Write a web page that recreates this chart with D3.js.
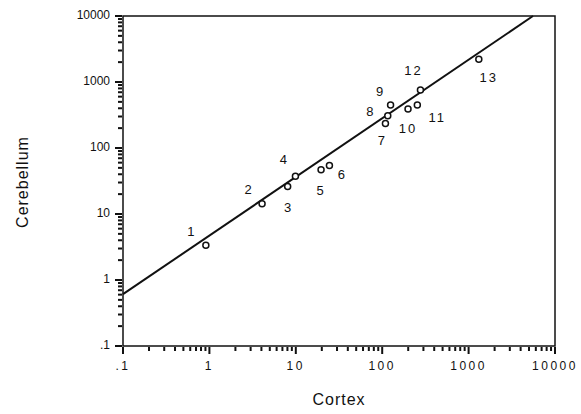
<!DOCTYPE html>
<html>
<head>
<meta charset="utf-8">
<script src="https://cdn.jsdelivr.net/npm/d3@7"></script>
<style>
  body { margin: 0; background: #fff; }
  text { font-family: "Liberation Sans", Arial, Helvetica, sans-serif; fill: #111; }
</style>
</head>
<body>
<div id="chart"></div>
<script>
// species numbers, cortex and cerebellum volumes (log-log)
const ids = [1, 2, 3, 4, 5, 6, 7, 8, 9, 10, 11, 12, 13];
const cortex = [0.91, 4.07, 8.05, 9.9, 19.6, 24.5, 109, 116, 125, 199, 255, 277, 1313];
const cerebellum = [3.36, 14.3, 26.1, 37.4, 46.7, 54.2, 236, 309, 448, 389, 448, 754, 2218];
// regression line end points
const fitX = [0.1, 5560];
const fitY = [0.61, 10000];
const tickVals = [0.1, 1, 10, 100, 1000, 10000];
const tickLabels = [".1", "1", "10", "100", "1000", "10000"];
// label offsets from each point (pixels)
const labelOffsets = [[-14, -13], [-13, -13], [1, 22], [-11, -16], [0, 22], [13, 10],
  [-3, 18], [-17, -3], [-10, -12], [0, 20], [20, 14], [-7, -19], [10, 19]];

const margin = { top: 16, right: 26, bottom: 68, left: 123 };
const width = 581 - margin.left - margin.right;
const height = 414 - margin.top - margin.bottom;

const svg = d3.select("#chart")
  .append("svg")
  .attr("width", 581)
  .attr("height", 414)
  .append("g")
  .attr("transform", `translate(${margin.left}, ${margin.top})`);

const x = d3.scaleLog().domain([0.1, 10000]).range([0, width]);
const y = d3.scaleLog().domain([0.1, 10000]).range([height, 0]);

// minor ticks 2..9 in every decade
const minor = [];
for (let e = -1; e < 4; e++) {
  for (let m = 2; m <= 9; m++) minor.push(m * Math.pow(10, e));
}
const tickMarks = tickVals.map(v => [v, 7]).concat(minor.map(v => [v, 4]));

// frame
svg.append("rect")
  .attr("width", width).attr("height", height)
  .attr("fill", "none").attr("stroke", "#111").attr("stroke-width", 1.5);

// tick marks outside the frame, major longer than minor
svg.append("g").selectAll("rect")
  .data(tickMarks)
  .enter().append("rect")
  .attr("x", d => x(d[0]) - 1).attr("y", height + 1)
  .attr("width", 2).attr("height", d => d[1])
  .attr("fill", "#111");

svg.append("g").selectAll("rect")
  .data(tickMarks)
  .enter().append("rect")
  .attr("x", d => -1 - d[1]).attr("y", d => y(d[0]) - 1)
  .attr("width", d => d[1]).attr("height", 2)
  .attr("fill", "#111");

// tick labels
svg.selectAll("text.xl")
  .data(tickVals).enter().append("text")
  .attr("class", "xl")
  .attr("x", d => x(d)).attr("y", height + 21)
  .attr("text-anchor", "middle").attr("dominant-baseline", "middle")
  .style("font-size", "12px").style("letter-spacing", "2.5px")
  .text((d, i) => tickLabels[i]);

svg.selectAll("text.yl")
  .data(tickVals).enter().append("text")
  .attr("class", "yl")
  .attr("x", -13).attr("y", d => y(d))
  .attr("text-anchor", "end").attr("dominant-baseline", "middle")
  .style("font-size", "12px")
  .text((d, i) => tickLabels[i]);

// regression line
svg.append("line")
  .attr("x1", x(fitX[0])).attr("y1", y(fitY[0]))
  .attr("x2", x(fitX[1])).attr("y2", y(fitY[1]))
  .attr("stroke", "#111").attr("stroke-width", 2);

// points
const pts = ids.map((id, i) => ({ id, cx: cortex[i], cb: cerebellum[i], off: labelOffsets[i] }));

svg.selectAll("circle.pt")
  .data(pts).enter().append("circle")
  .attr("class", "pt")
  .attr("cx", d => x(d.cx)).attr("cy", d => y(d.cb))
  .attr("r", 3)
  .attr("fill", "#fff").attr("stroke", "#111").attr("stroke-width", 1.5);

svg.selectAll("text.lab")
  .data(pts).enter().append("text")
  .attr("class", "lab")
  .attr("x", d => x(d.cx) + d.off[0]).attr("y", d => y(d.cb) + d.off[1])
  .attr("text-anchor", "middle").attr("dominant-baseline", "middle")
  .style("font-size", "13px").style("letter-spacing", "2px")
  .text(d => d.id);

// axis titles
svg.append("text")
  .attr("x", width / 2).attr("y", height + 59)
  .attr("text-anchor", "middle")
  .style("font-size", "16px").style("letter-spacing", "1px")
  .text("Cortex");

svg.append("text")
  .attr("transform", "rotate(-90)")
  .attr("x", -height / 2 - 1).attr("y", -95)
  .attr("text-anchor", "middle")
  .style("font-size", "16px").style("letter-spacing", "1px")
  .text("Cerebellum");
</script>
</body>
</html>
